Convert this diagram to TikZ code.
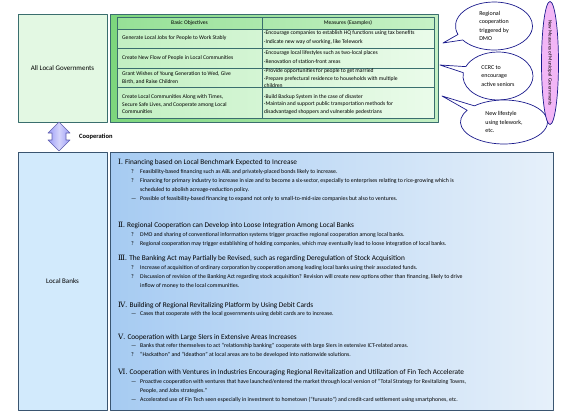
\documentclass[tikz,border=0pt]{standalone}
\usepackage{fontspec}
\setmainfont{Carlito}
\newfontfamily\numfont{DejaVu Serif}
\usetikzlibrary{shapes.callouts,shapes.geometric}

\definecolor{govfill}{HTML}{E3F8E3}
\definecolor{govline}{HTML}{3A6E6E}
\definecolor{tabdark}{HTML}{7CD67C}
\definecolor{tablight}{HTML}{C4EFC4}
\definecolor{headdark}{HTML}{96E096}
\definecolor{headlight}{HTML}{C6F2C6}
\definecolor{celldark}{HTML}{C2F0C2}
\definecolor{celllight}{HTML}{EAFBEA}
\definecolor{bankfill}{HTML}{D2EAFC}
\definecolor{bankline}{HTML}{3A5570}
\definecolor{bluedark}{HTML}{A6CBF2}
\definecolor{bluelight}{HTML}{E6F0FA}
\definecolor{bubline}{HTML}{1A1A8C}
\definecolor{measfill}{HTML}{F2B6F6}
\definecolor{arrowfill}{HTML}{9C9CF6}
\definecolor{arrowlight}{HTML}{D4D4FC}

\newcommand{\bul}[1]{\makebox[9pt][l]{#1}}

\begin{document}
\begin{tikzpicture}[x=1pt,y=-1pt,line join=round,
    tabtxt/.style={font=\fontsize{5.6}{8}\selectfont,inner sep=0pt,anchor=west,align=left},
    head/.style={font=\fontsize{7.3}{8}\selectfont,inner sep=0pt,anchor=west},
    item/.style={font=\fontsize{5.8}{9.2}\selectfont,inner sep=0pt,anchor=north west,align=left},
    bubble/.style={ellipse callout,draw=bubline,fill=white,line width=0.7pt,
        font=\fontsize{6}{8.5}\selectfont,align=left,inner sep=0pt}]

    \useasboundingbox (0,0) rectangle (568,415);

    \coordinate (G1) at (18,14);
    \coordinate (G2) at (107,122);
    \coordinate (M1) at (110,14);
    \coordinate (M2) at (438,122);
    \coordinate (B1) at (18,152);
    \coordinate (B2) at (107,410);
    \coordinate (R1) at (110,152);
    \coordinate (R2) at (553,410);

    \coordinate (t1) at (443,43);
    \coordinate (t2) at (440,65);
    \coordinate (t3) at (442,96);

    \draw[govline,line width=0.8pt,fill=govfill] (G1) rectangle (G2);
    \node[font=\fontsize{7}{8}\selectfont] (gov) at (62.5,68) {All Local Governments};

    \draw[govline,line width=0.8pt,left color=tabdark,right color=tablight] (M1) rectangle (M2);
    \draw[govline,line width=0.6pt,left color=headdark,right color=headlight] (117,17) rectangle (434,29);
    \draw[govline,line width=0.6pt,left color=celldark,right color=celllight] (117,29) rectangle (434,118);
    \draw[govline,line width=0.6pt] (117,48) -- (434,48);
    \draw[govline,line width=0.6pt] (117,68) -- (434,68);
    \draw[govline,line width=0.6pt] (117,87) -- (434,87);
    \draw[govline,line width=0.6pt] (262,17) -- (262,118);

    \node[font=\fontsize{5.6}{7}\selectfont,inner sep=0pt] (objhead) at (189.5,23) {Basic Objectives};
    \node[font=\fontsize{5.6}{7}\selectfont,inner sep=0pt] (meahead) at (348,23) {Measures (Examples)};

    \node[tabtxt] (obj1) at (122,38) {Generate Local Jobs for People to Work Stably};
    \node[tabtxt] (obj2) at (122,58) {Create New Flow of People in Local Communities};
    \node[tabtxt] (obj3) at (122,78) {Grant Wishes of Young Generation to Wed, Give\\Birth, and Raise Children};
    \node[tabtxt,font=\fontsize{5.6}{7.5}\selectfont] (obj4) at (122,104.5) {Create Local Communities Along with Times,\\Secure Safe Lives, and Cooperate among Local\\Communities};

    \node[tabtxt,font=\fontsize{5.6}{9}\selectfont] (mea1) at (264,37.5) {·Encourage companies to establish HQ functions using tax benefits\\·Indicate new way of working, like Telework};
    \node[tabtxt,font=\fontsize{5.6}{9}\selectfont] (mea2) at (264,57.5) {·Encourage local lifestyles such as two-local places\\·Renovation of station-front areas};
    \node[tabtxt,font=\fontsize{5.6}{7.3}\selectfont] (mea3) at (264,78.3) {·Provide opportunities for people to get married\\·Prepare prefectural residence to households with multiple\\children};
    \node[tabtxt,font=\fontsize{5.6}{7.5}\selectfont] (mea4) at (264,104.5) {·Build Backup System in the case of disaster\\·Maintain and support public transportation methods for\\disadvantaged shoppers and vulnerable pedestrians};

    \node[bubble,minimum width=77,minimum height=48,callout absolute pointer=(t1)] (dmo) at (494,26)
        {Regional\\cooperation\\triggered by\\DMO};
    \node[bubble,minimum width=70,minimum height=48,callout absolute pointer=(t2)] (ccrc) at (498,76)
        {CCRC to\\encourage\\active seniors};
    \node[bubble,minimum width=87,minimum height=44,callout absolute pointer=(t3)] (life) at (504,122)
        {New lifestyle\\using telework,\\etc.};

    \node[ellipse,draw=bubline,line width=0.7pt,fill=measfill,rotate=-90,minimum width=123,
        minimum height=17,inner sep=0pt,font=\fontsize{5}{6}\selectfont] (meas) at (550,63)
        {New Measures of Municipal Governments};

    \draw[bubline!70,line width=0.6pt,left color=arrowfill,right color=arrowfill,middle color=arrowlight]
        (59,122) -- (70,133) -- (66,133) -- (66,140) -- (70,140) -- (59,151)
        -- (48,140) -- (52,140) -- (52,133) -- (48,133) -- cycle;
    \node[font=\bfseries\fontsize{6.5}{8}\selectfont,inner sep=0pt,anchor=west] (coop) at (79,136.5) {Cooperation};

    \draw[bankline,line width=0.8pt,fill=bankfill] (B1) rectangle (B2);
    \node[font=\fontsize{7}{8}\selectfont] (bank) at (62.5,281) {Local Banks};

    \draw[bankline,line width=0.8pt,left color=bluedark,right color=bluelight] (R1) rectangle (R2);

    \node[head] (sec1) at (118,162) {{\numfont Ⅰ}. Financing based on Local Benchmark Expected to Increase};
    \node[item] (sec1a) at (131,169) {\bul{?}Feasibility-based financing such as ABL and privately-placed bonds likely to increase.\\
        \bul{?}Financing for primary industry to increase in size and to become a six-sector, especially to enterprises relating to rice-growing which is\\
        \hspace*{9pt}scheduled to abolish acreage-reduction policy.\\
        \bul{—}Possible of feasibility-based financing to expand not only to small-to-mid-size companies but also to ventures.};

    \node[head] (sec2) at (118,225) {{\numfont Ⅱ}. Regional Cooperation can Develop into Loose Integration Among Local Banks};
    \node[item] (sec2a) at (131,232) {\bul{?}DMO and sharing of conventional information systems trigger proactive regional cooperation among local banks.\\
        \bul{?}Regional cooperation may trigger establishing of holding companies, which may eventually lead to loose integration of local banks.};

    \node[head] (sec3) at (118,258) {{\numfont Ⅲ}. The Banking Act may Partially be Revised, such as regarding Deregulation of Stock Acquisition};
    \node[item] (sec3a) at (131,265) {\bul{?}Increase of acquisition of ordinary corporation by cooperation among leading local banks using their associated funds.\\
        \bul{?}Discussion of revision of the Banking Act regarding stock acquisition? Revision will create new options other than financing, likely to drive\\
        \hspace*{9pt}inflow of money to the local communities.};

    \node[head] (sec4) at (118,305) {{\numfont Ⅳ}. Building of Regional Revitalizing Platform by Using Debit Cards};
    \node[item] (sec4a) at (131,311) {\bul{—}Cases that cooperate with the local governments using debit cards are to increase.};

    \node[head] (sec5) at (118,337) {{\numfont Ⅴ}. Cooperation with Large SIers in Extensive Areas Increases};
    \node[item] (sec5a) at (131,343) {\bul{—}Banks that refer themselves to act ``relationship banking'' cooperate with large SIers in extensive ICT-related areas.\\
        \bul{?}``Hackathon'' and ``Ideathon'' at local areas are to be developed into nationwide solutions.};

    \node[head] (sec6) at (118,372) {{\numfont Ⅵ}. Cooperation with Ventures in Industries Encouraging Regional Revitalization and Utilization of Fin Tech Accelerate};
    \node[item] (sec6a) at (131,379) {\bul{—}Proactive cooperation with ventures that have launched/entered the market through local version of ``Total Strategy for Revitalizing Towns,\\
        \hspace*{9pt}People, and Jobs strategies.''\\
        \bul{—}Accelerated use of Fin Tech seen especially in investment to hometown (``furusato'') and credit-card settlement using smartphones, etc.};
\end{tikzpicture}
\end{document}
